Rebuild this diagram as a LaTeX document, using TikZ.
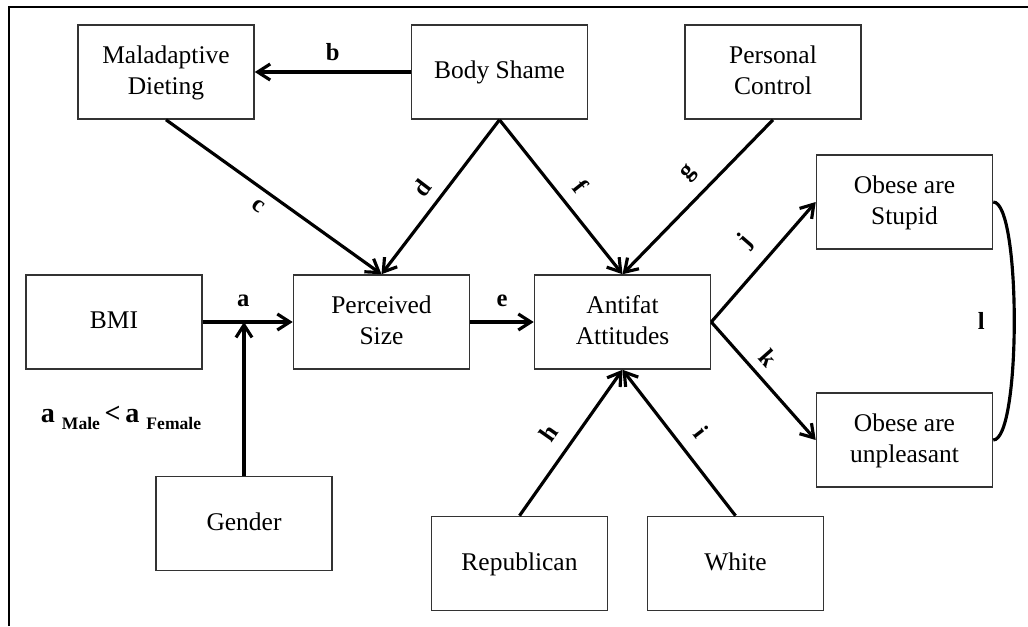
\documentclass[tikz,border=0pt]{standalone}
\usepackage{fontspec}
\setmainfont{Liberation Serif}
\usetikzlibrary{arrows.meta}

\begin{document}
\begin{tikzpicture}[x=0.02cm, y=-0.02cm,
    box/.style={draw=black!80, line width=0.9pt, minimum width=3.52cm,
      minimum height=1.88cm, inner sep=0pt, align=center, text depth=0.22em,
      font=\fontsize{14.5}{17.6}\selectfont},
    effect/.style={line width=1.8pt, -{Straight Barb[length=2.5mm, width=3.2mm]}},
    lbl/.style={inner sep=2pt, font=\fontsize{14}{16}\selectfont\bfseries}]
  \useasboundingbox (0, 0) rectangle (1028, 626);
  \draw [line width=1.4pt] (9, 626) -- (9, 7) -- (1028, 7);  % ram
  \node [box] (dieting) at (166, 72) {Maladaptive\\Dieting};
  \node [box] (shame) at (499.5, 72) {Body Shame};
  \node [box] (control) at (773, 72) {Personal\\Control};
  \node [box] (stupid) at (904.5, 202) {Obese are\\Stupid};
  \node [box] (bmi) at (114, 322) {BMI};
  \node [box] (size) at (381.5, 322) {Perceived\\Size};
  \node [box] (antifat) at (622.5, 322) {Antifat\\Attitudes};
  \node [box] (unpleasant) at (904.5, 440) {Obese are\\unpleasant};
  \node [box] (gender) at (244, 523.5) {Gender};
  \node [box] (republican) at (519.5, 563.5) {Republican};
  \node [box] (white) at (735.5, 563.5) {White};
  \node [font=\bfseries] (note) at (121, 418) {\fontsize{16}{18}\selectfont
    a \raisebox{-0.6ex}{\fontsize{10}{12}\selectfont Male}\,<\,a
    \raisebox{-0.6ex}{\fontsize{10}{12}\selectfont Female}};  % moderering
  \draw [effect] (shame.west) -- node [lbl, above=3.5pt] {b} (dieting.east);
  \draw [effect] (dieting.south) -- node [lbl, sloped, pos=.47, below=3pt] {c} (size.north);
  \draw [effect] (shame.south) -- node [lbl, sloped, pos=.52, above=4pt] {d} (size.north);
  \draw [effect] (shame.south) -- node [lbl, sloped, pos=.52, above=5pt] {f} (antifat.north);
  \draw [effect] (control.south) -- node [lbl, sloped, pos=.45, above=5pt] {g} (antifat.north);
  \draw [effect] (bmi.east) -- node [lbl, pos=.45, above=6pt] {a} (size.west);
  \draw [effect] (gender.north) -- (gender.north |- bmi.east);  % till pilen a
  \draw [effect] (size.east) -- node [lbl, above=6pt] {e} (antifat.west);
  \draw [effect] (antifat.east) -- node [lbl, sloped, pos=.52, above=6pt] {j} (stupid.west);
  \draw [effect] (antifat.east) -- node [lbl, sloped, pos=.41, above=3pt] {k} (unpleasant.west);
  \draw [effect] (republican.north) -- node [lbl, sloped, pos=.47, above=6pt] {h} (antifat.south);
  \draw [effect] (white.north) -- node [lbl, sloped, pos=.47, above=6pt] {i} (antifat.south);
  \draw [line width=1.8pt] (stupid.east) .. controls +(28, 0) and +(28, 0) ..
    node [lbl, left=14pt] {l} (unpleasant.east);  % korrelation
\end{tikzpicture}
\end{document}
